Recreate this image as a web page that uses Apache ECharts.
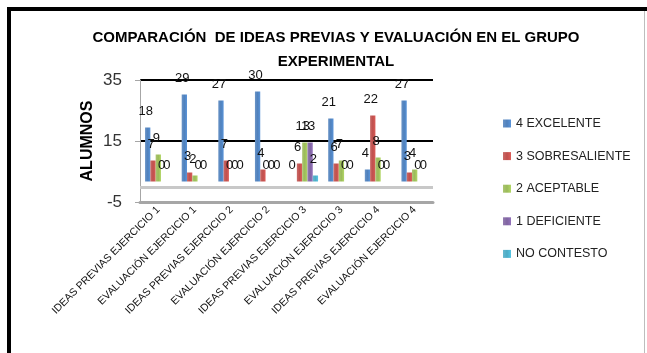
<!DOCTYPE html>
<html>
<head>
<meta charset="utf-8">
<script src="https://cdn.jsdelivr.net/npm/echarts@6/dist/echarts.min.js"></script>
<style>html,body{margin:0;padding:0;background:#fff;}#c{width:647px;height:353px;}</style>
</head>
<body>
<div id="c"></div>
<script>
var categories = ['IDEAS PREVIAS EJERCICIO 1','EVALUACIÓN EJERCICIO 1','IDEAS PREVIAS EJERCICIO 2','EVALUACIÓN EJERCICIO 2','IDEAS PREVIAS EJERCICIO 3','EVALUACIÓN EJERCICIO 3','IDEAS PREVIAS EJERCICIO 4','EVALUACIÓN EJERCICIO 4'];
var seriesNames = ['4 EXCELENTE','3 SOBRESALIENTE','2 ACEPTABLE','1 DEFICIENTE','NO CONTESTO'];
var excelente     = [18, 29, 27, 30, 0, 21, 4, 27];
var sobresaliente = [7, 3, 7, 4, 6, 6, 22, 3];
var aceptable     = [9, 2, 0, 0, 13, 7, 8, 4];
var deficiente    = [0, 0, 0, 0, 13, 0, 0, 0];
var noContesto    = [0, 0, 0, 0, 2, 0, 0, 0];
var yTicks = [-5, 15, 35];
var colors = ['#4F81BD','#C0504D','#9BBB59','#8064A2','#4BACC6'];

var values = [excelente, sobresaliente, aceptable, deficiente, noContesto];
var font = '"Liberation Sans", Arial, sans-serif';

var chart = echarts.init(document.getElementById('c'), null, {renderer:'canvas'});

function grad(c){
  return new echarts.graphic.LinearGradient(0,0,1,0,[
    {offset:0,color:echarts.color.lift(c,0.15)},
    {offset:0.5,color:c},
    {offset:1,color:echarts.color.lift(c,-0.15)}
  ]);
}

var series = values.map(function(v,i){
  return {
    name: seriesNames[i],
    type: 'bar',
    xAxisIndex: 1,
    yAxisIndex: 1,
    data: v,
    barWidth: 5.3,
    barGap: '0%',
    itemStyle: {color: grad(colors[i])},
    label: {
      show: true, position: 'top', distance: 10, offset: [-2, 0],
      fontSize: 13, color: '#111', fontFamily: font
    }
  };
});
series.push({
  type: 'line', xAxisIndex: 0, yAxisIndex: 0, data: [], silent: true,
  markLine: {
    symbol: 'none', silent: true, label: {show:false},
    lineStyle: {color:'#c8c8c8', width:3, type:'solid'},
    data: [{yAxis: 0}]
  }
});

chart.setOption({
  animation: false,
  color: colors,
  title: {
    text: 'COMPARACIÓN  DE IDEAS PREVIAS Y EVALUACIÓN EN EL GRUPO\nEXPERIMENTAL',
    left: 331, top: 21, textAlign: 'center',
    textStyle: {fontSize: 15, fontWeight: 'bold', color: '#000', fontFamily: font, lineHeight: 24}
  },
  legend: {
    orient: 'vertical', left: 498, top: 112,
    itemWidth: 8, itemHeight: 8, itemGap: 19.6,
    icon: 'rect',
    textStyle: {fontSize: 12.5, color: '#222', fontFamily: font},
    data: seriesNames
  },
  grid: [
    {left: 140, top: 80, width: 293, height: 122},
    {left: 140, top: 76.5, width: 293, height: 120}
  ],
  xAxis: [
    {
      type: 'category', gridIndex: 0, data: categories,
      axisLine: {show: true, onZero: false, lineStyle: {color: '#a6a6a6', width: 3}},
      axisTick: {show: false},
      axisLabel: {interval: 0, rotate: 45, fontSize: 10.5, color: '#111', fontFamily: font, margin: 6}
    },
    {
      type: 'category', gridIndex: 1, data: categories, show: false
    }
  ],
  yAxis: [
    {
      type: 'value', gridIndex: 0, min: -5, max: 35, interval: 20,
      name: 'ALUMNOS', nameLocation: 'middle', nameRotate: 90, nameGap: 44,
      nameTextStyle: {fontSize: 16, fontWeight: 'bold', color: '#000', fontFamily: font},
      axisLine: {show: true, lineStyle: {color: '#a6a6a6', width: 1}},
      axisTick: {show: true, length: 5, lineStyle: {color: '#a6a6a6'}},
      axisLabel: {fontSize: 17, color: '#333', fontFamily: font, margin: 18},
      splitLine: {show: true, lineStyle: {color: '#000', width: 2}}
    },
    {
      type: 'value', gridIndex: 1, min: -5, max: 35, interval: 20, show: false,
      splitLine: {show: false}
    }
  ],
  graphic: [
    {type: 'rect', shape: {x: 7, y: 7, width: 640, height: 4}, style: {fill: '#000'}, silent: true},
    {type: 'rect', shape: {x: 7, y: 7, width: 4, height: 346}, style: {fill: '#000'}, silent: true},
    {type: 'rect', shape: {x: 644, y: 11, width: 1, height: 342}, style: {fill: '#bdbdbd'}, silent: true}
  ],
  series: series
});
</script>
</body>
</html>
